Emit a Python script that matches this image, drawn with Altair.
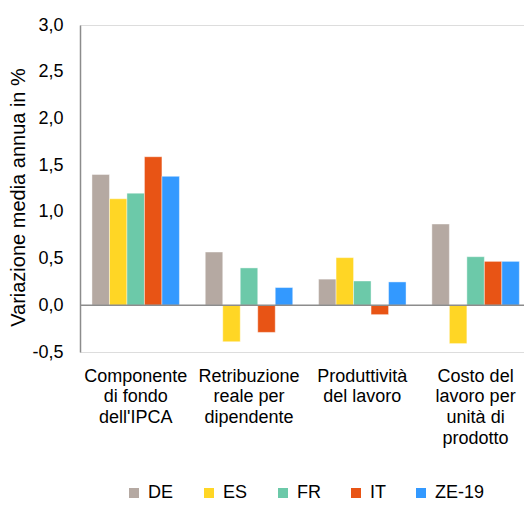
import altair as alt
import pandas as pd

categories = [
    "Componente\ndi fondo\ndell'IPCA",
    "Retribuzione\nreale per\ndipendente",
    "Produttività\ndel lavoro",
    "Costo del\nlavoro per\nunità di\nprodotto",
]
countries = ["DE", "ES", "FR", "IT", "ZE-19"]
colors = ["#B5A9A2", "#FFD625", "#6CC9A9", "#E85415", "#3399FF"]

de = [1.40, 0.57, 0.28, 0.87]
es = [1.14, -0.39, 0.51, -0.41]
fr = [1.20, 0.40, 0.26, 0.52]
it = [1.59, -0.29, -0.10, 0.47]
ze = [1.38, 0.19, 0.25, 0.47]

series = {"DE": de, "ES": es, "FR": fr, "IT": it, "ZE-19": ze}
rows = []
for c in countries:
    for cat, v in zip(categories, series[c]):
        rows.append({"cat": cat, "country": c, "value": v})
df = pd.DataFrame(rows)

FONT = "Liberation Sans"

bars = alt.Chart(df).mark_bar(stroke="white", strokeWidth=0.6, strokeOpacity=0.7).encode(
    x=alt.X(
        "cat:N",
        sort=categories,
        scale=alt.Scale(paddingInner=0.228, paddingOuter=0.0733, align=0.72),
        axis=alt.Axis(
            title=None,
            domain=False,
            ticks=False,
            labelAngle=0,
            labelFont=FONT,
            labelFontSize=18,
            labelColor="#000000",
            labelPadding=15,
            labelLineHeight=20.7,
            labelBaseline="top",
            labelExpr="split(datum.label, '\\n')",
        ),
    ),
    xOffset=alt.XOffset("country:N", sort=countries, scale=alt.Scale(paddingInner=0, paddingOuter=0)),
    y=alt.Y(
        "value:Q",
        scale=alt.Scale(domain=[-0.5, 3.0], nice=False),
        axis=alt.Axis(
            title="Variazione media annua in %",
            values=[-0.5, 0, 0.5, 1.0, 1.5, 2.0, 2.5, 3.0],
            labelExpr="(datum.value < 0 ? '-' : '') + replace(format(abs(datum.value), '.1f'), '.', ',')",
            grid=False,
            ticks=False,
            domainColor="#8C8C8C",
            domainWidth=1.5,
            labelFont=FONT,
            labelFontSize=18,
            labelColor="#000000",
            labelPadding=17,
            titleFont=FONT,
            titleFontSize=20,
            titleFontWeight="normal",
            titleColor="#000000",
            titleAngle=270,
            titleAlign="center",
            titleBaseline="middle",
            titleX=-62,
            titleY=172,
        ),
    ),
    color=alt.Color(
        "country:N",
        sort=countries,
        scale=alt.Scale(domain=countries, range=colors),
        legend=alt.Legend(
            title=None,
            orient="none",
            direction="horizontal",
            legendX=45,
            legendY=459,
            symbolType="square",
            symbolSize=100,
            symbolStrokeWidth=0,
            labelFont=FONT,
            labelFontSize=18,
            labelColor="#000000",
            labelOffset=5,
            columnPadding=26,
            padding=0,
        ),
    ),
)

zero = alt.Chart(pd.DataFrame({"z": [0]})).mark_rule(color="#8C8C8C", strokeWidth=1.5).encode(
    y=alt.Y("z:Q")
)

chart = (
    alt.layer(bars, zero)
    .properties(
        width=444,
        height=327,
        autosize=alt.AutoSizeParams(type="none"),
        padding={"left": 72, "top": 17, "right": 0, "bottom": 150},
    )
    .configure_view(stroke=None)
    .configure(background="white")
)

chart.save("out.html", embed_options={"renderer": "svg", "actions": False})
